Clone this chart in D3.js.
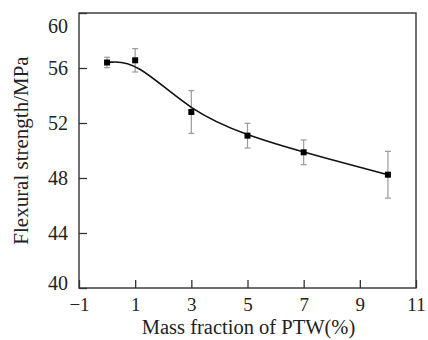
<!DOCTYPE html>
<html><head><meta charset="utf-8">
<script src="https://cdn.jsdelivr.net/npm/d3@7"></script>
<style>body{margin:0;background:#fff}svg{display:block}</style>
</head><body>
<script>
const xValues = [0, 1, 3, 5, 7, 10];
const strength = [56.4, 56.56, 52.8, 51.08, 49.87, 48.24];
const errors = [0.38, 0.85, 1.55, 0.9, 0.9, 1.7];
const xTicks = [-1, 1, 3, 5, 7, 9, 11];
const yTicks = [40, 44, 48, 52, 56, 60];
const xTitle = "Mass fraction of PTW(%)";
const yTitle = "Flexural strength/MPa";

const W = 428, H = 340;
const m = {l: 79, r: 12, t: 13, b: 52};
const svg = d3.select("body").append("svg").attr("width", W).attr("height", H);
const x = d3.scaleLinear().domain([-1, 11]).range([m.l, W - m.r]);
const y = d3.scaleLinear().domain([40, 60]).range([H - m.b, m.t]);
const font = "'Liberation Serif','Times New Roman',serif";
const axisCol = "#333";

// axes with inward ticks
const gx = svg.append("g").attr("transform", `translate(0,${H - m.b})`)
  .call(d3.axisBottom(x).tickValues(xTicks).tickSizeInner(-8).tickSizeOuter(0).tickPadding(10)
    .tickFormat(d => d < 0 ? "\u2212" + Math.abs(d) : d));
const gy = svg.append("g").attr("transform", `translate(${m.l},0)`)
  .call(d3.axisLeft(y).tickValues(yTicks).tickSizeInner(-8).tickSizeOuter(0).tickPadding(11));
[gx, gy].forEach(g => {
  g.select(".domain").remove();
  g.selectAll("line").attr("stroke", axisCol).attr("stroke-width", 1.3);
  g.selectAll("text").attr("font-family", font).attr("font-size", 20).attr("fill", "#222");
});
gx.selectAll(".tick text").attr("font-size", 19);
gy.selectAll(".tick text").attr("dy", d => d === 60 ? "0.95em" : d === 40 ? "0.05em" : "0.32em");

// frame
svg.append("rect").attr("x", x(-1)).attr("y", y(60))
  .attr("width", x(11) - x(-1)).attr("height", y(40) - y(60))
  .attr("fill", "none").attr("stroke", axisCol).attr("stroke-width", 1.4);

const data = xValues.map((v, i) => ({x: v, y: strength[i], e: errors[i]}));

// error bars
const eb = svg.append("g").attr("stroke", "#9a9a9a").attr("stroke-width", 1.2).attr("fill", "none");
data.forEach(d => {
  eb.append("line").attr("x1", x(d.x)).attr("x2", x(d.x)).attr("y1", y(d.y - d.e)).attr("y2", y(d.y + d.e));
  [d.y - d.e, d.y + d.e].forEach(v =>
    eb.append("line").attr("x1", x(d.x) - 3).attr("x2", x(d.x) + 3).attr("y1", y(v)).attr("y2", y(v)));
});

// smooth curve
svg.append("path").datum(data)
  .attr("d", d3.line().x(d => x(d.x)).y(d => y(d.y)).curve(d3.curveBasis))
  .attr("fill", "none").attr("stroke", "#111").attr("stroke-width", 1.6);

// markers
svg.append("g").selectAll("rect").data(data).join("rect")
  .attr("x", d => x(d.x) - 3).attr("y", d => y(d.y) - 3)
  .attr("width", 6).attr("height", 6).attr("fill", "#000");

// titles
svg.append("text").attr("x", (x(-1) + x(11)) / 2 + 1).attr("y", 334)
  .attr("text-anchor", "middle").attr("font-family", font).attr("font-size", 20.5).attr("fill", "#222")
  .text(xTitle);
svg.append("text").attr("transform", `translate(28,${(y(40) + y(60)) / 2}) rotate(-90)`)
  .attr("text-anchor", "middle").attr("font-family", font).attr("font-size", 21).attr("fill", "#222")
  .text(yTitle);
</script>
</body></html>
